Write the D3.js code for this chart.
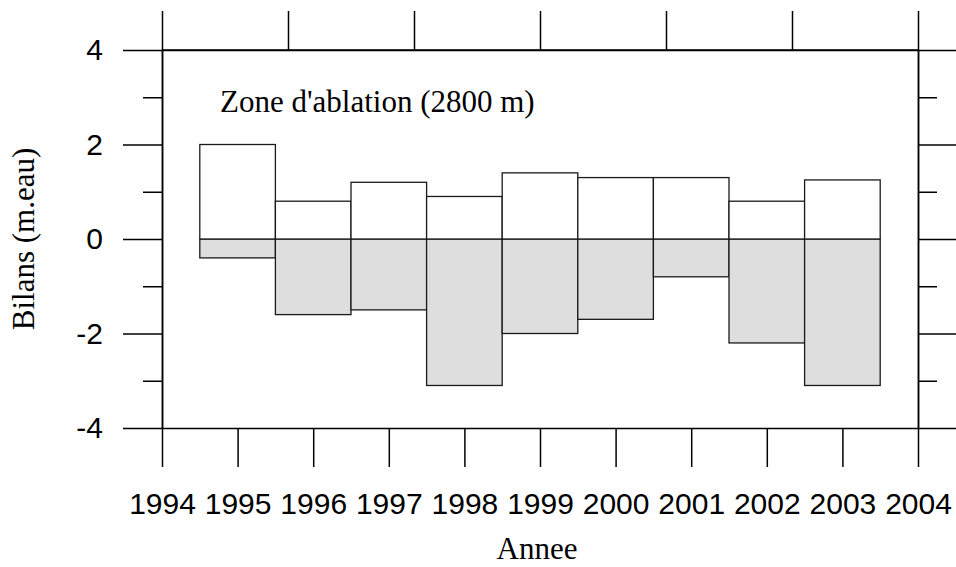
<!DOCTYPE html>
<html>
<head>
<meta charset="utf-8">
<script src="https://cdn.jsdelivr.net/npm/d3@7"></script>
<style>
  body { margin: 0; background: #fff; }
  .tick text { font-family: "Liberation Sans", Arial, sans-serif; font-size: 30px; fill: #000; }
  .domain, .tick line { stroke: #000; stroke-width: 1.5; }
  .serif { font-family: "Liberation Serif", "Times New Roman", serif; font-size: 31px; fill: #000; }
</style>
</head>
<body>
<script>
// Bilans hiver (positifs) et ete (negatifs), zone d'ablation 2800 m
var years = [1995, 1996, 1997, 1998, 1999, 2000, 2001, 2002, 2003];
var winter = [2.0, 0.8, 1.2, 0.9, 1.4, 1.3, 1.3, 0.8, 1.25];
var summer = [-0.4, -1.6, -1.5, -3.1, -2.0, -1.7, -0.8, -2.2, -3.1];
var xTicks = [1994, 1995, 1996, 1997, 1998, 1999, 2000, 2001, 2002, 2003, 2004];
var yMajor = [-4, -2, 0, 2, 4];
var yMinor = [-3, -1, 1, 3];

var svg = d3.select("body").append("svg").attr("width", 956).attr("height", 567);

var x = d3.scaleLinear().domain([1994, 2004]).range([162, 918]);
var y = d3.scaleLinear().domain([-4, 4]).range([428, 50]);
// top axis has its own six even divisions, no labels
var xTop = d3.scaleLinear().domain([0, 6]).range([162, 918]);

// Bars: summer (grey) then winter (white)
svg.append("g").selectAll("rect")
    .data(years)
    .enter().append("rect")
    .attr("x", function(d) { return x(d - 0.5); })
    .attr("width", function(d) { return x(d + 0.5) - x(d - 0.5); })
    .attr("y", y(0))
    .attr("height", function(d, i) { return y(summer[i]) - y(0); })
    .attr("fill", "#dedede")
    .attr("stroke", "#1a1a1a")
    .attr("stroke-width", 1.3);

svg.append("g").selectAll("rect")
    .data(years)
    .enter().append("rect")
    .attr("x", function(d) { return x(d - 0.5); })
    .attr("width", function(d) { return x(d + 0.5) - x(d - 0.5); })
    .attr("y", function(d, i) { return y(winter[i]); })
    .attr("height", function(d, i) { return y(0) - y(winter[i]); })
    .attr("fill", "#fff")
    .attr("stroke", "#1a1a1a")
    .attr("stroke-width", 1.3);

// Axes
svg.append("g")
    .attr("transform", "translate(0,428)")
    .call(d3.axisBottom(x).tickValues(xTicks).tickFormat(String)
          .tickSize(39).tickSizeOuter(0).tickPadding(26));

svg.append("g")
    .attr("transform", "translate(0,50)")
    .call(d3.axisTop(xTop).tickValues(d3.range(7)).tickFormat("")
          .tickSize(39).tickSizeOuter(0));

svg.append("g")
    .attr("transform", "translate(162,0)")
    .call(d3.axisLeft(y).tickValues(yMajor).tickFormat(String)
          .tickSize(39).tickSizeOuter(0).tickPadding(20));

svg.append("g")
    .attr("transform", "translate(162,0)")
    .call(d3.axisLeft(y).tickValues(yMinor).tickFormat("").tickSize(19).tickSizeOuter(0));

svg.append("g")
    .attr("transform", "translate(918,0)")
    .call(d3.axisRight(y).tickValues(yMajor).tickFormat("").tickSize(39).tickSizeOuter(0));

svg.append("g")
    .attr("transform", "translate(918,0)")
    .call(d3.axisRight(y).tickValues(yMinor).tickFormat("").tickSize(19).tickSizeOuter(0));

// Top border of the frame
svg.append("line").attr("x1", 162).attr("x2", 918).attr("y1", y(4)).attr("y2", y(4))
    .attr("stroke", "#000").attr("stroke-width", 1.5);

// Labels
svg.append("text").attr("class", "serif")
    .attr("x", 220).attr("y", 112)
    .text("Zone d'ablation (2800 m)");

svg.append("text").attr("class", "serif")
    .attr("x", 537).attr("y", 559).attr("text-anchor", "middle")
    .text("Annee");

svg.append("text").attr("class", "serif")
    .attr("transform", "translate(34,239) rotate(-90)")
    .attr("text-anchor", "middle")
    .text("Bilans (m.eau)");
</script>
</body>
</html>
